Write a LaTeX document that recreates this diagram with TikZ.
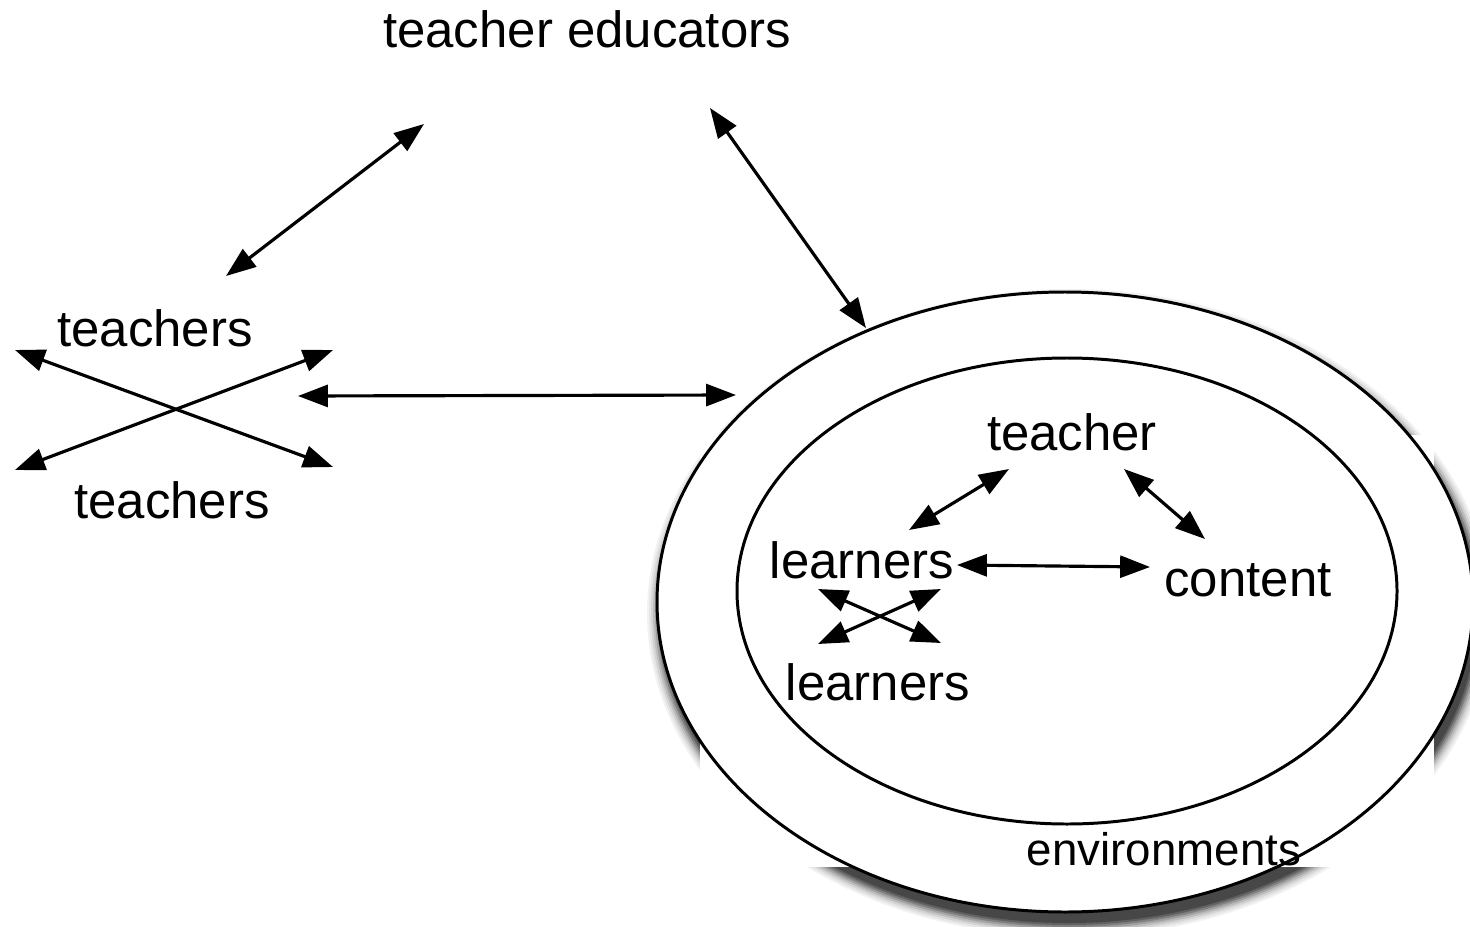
\documentclass[tikz,border=0pt]{standalone}
\usepackage{fontspec}
\setmainfont{Liberation Sans}
\usetikzlibrary{arrows.meta}

\begin{document}
\begin{tikzpicture}[x=0.02cm,y=-0.02cm,
    lbl/.style={font=\fontsize{29}{34}\selectfont,inner sep=0pt,anchor=base},
    dbl/.style={>={Triangle[length=17pt,width=12.5pt]},<->,line width=1.8pt},
    ring/.style={draw,line width=1.7pt,fill=white}]
 \useasboundingbox (0,0) rectangle (1470,926);
 \clip (0,0) rectangle (1470,926);
 % shadow of the outer ring, partly hidden by a white box
 \foreach \d/\c in {14/5,12/10,10/17,8/26,6/37,4/50,2/62,0/72}
  \fill[black!\c] (1069,613) ellipse [x radius=408+\d,y radius=310+\d];
 \fill[white] (700,435) rectangle (1434,867);
 \draw[ring] (1065,602) ellipse [x radius=408,y radius=310];
 \draw[ring] (1067,591) ellipse [x radius=330,y radius=233];

 \node[lbl] (edu) at (587,48) {teacher educators};
 \node[lbl] (tchA) at (155,346) {teachers};
 \node[lbl] (tchB) at (172,518) {teachers};
 \node[lbl] (tch) at (1072,450) {teacher};
 \node[lbl] (lrnA) at (862,578) {learners};
 \node[lbl] (cnt) at (1248,596) {content};
 \node[lbl] (lrnB) at (878,700) {learners};
 \node[lbl,font=\fontsize{26}{30}\selectfont] (env) at (1164,865) {environments};

 % free ends of the arrows
 \coordinate (edu-w) at (424,124); \coordinate (tch-n) at (226,276);
 \coordinate (edu-e) at (710,108); \coordinate (ring-n) at (866,328);
 \coordinate (tch-e) at (298,396); \coordinate (ring-w) at (736,395);
 \coordinate (xa1) at (15,350); \coordinate (xa2) at (333,467);
 \coordinate (xb1) at (15,470); \coordinate (xb2) at (333,350);
 \coordinate (tch-sw) at (1009,469); \coordinate (lrn-ne) at (909,530);
 \coordinate (tch-se) at (1124,469); \coordinate (cnt-n) at (1205,539);
 \coordinate (lrn-e) at (957,565); \coordinate (cnt-w) at (1150,567);
 \coordinate (ya1) at (818,589); \coordinate (ya2) at (941,643);
 \coordinate (yb1) at (818,644); \coordinate (yb2) at (941,589);

 \path[dbl] (edu-w) edge (tch-n) (edu-e) edge (ring-n) (tch-e) edge (ring-w)
  (xa1) edge (xa2) (xb1) edge (xb2);
 \path[dbl] (tch-sw) edge (lrn-ne) (tch-se) edge (cnt-n) (lrn-e) edge (cnt-w)
  (ya1) edge (ya2) (yb1) edge (yb2);
\end{tikzpicture}
\end{document}
